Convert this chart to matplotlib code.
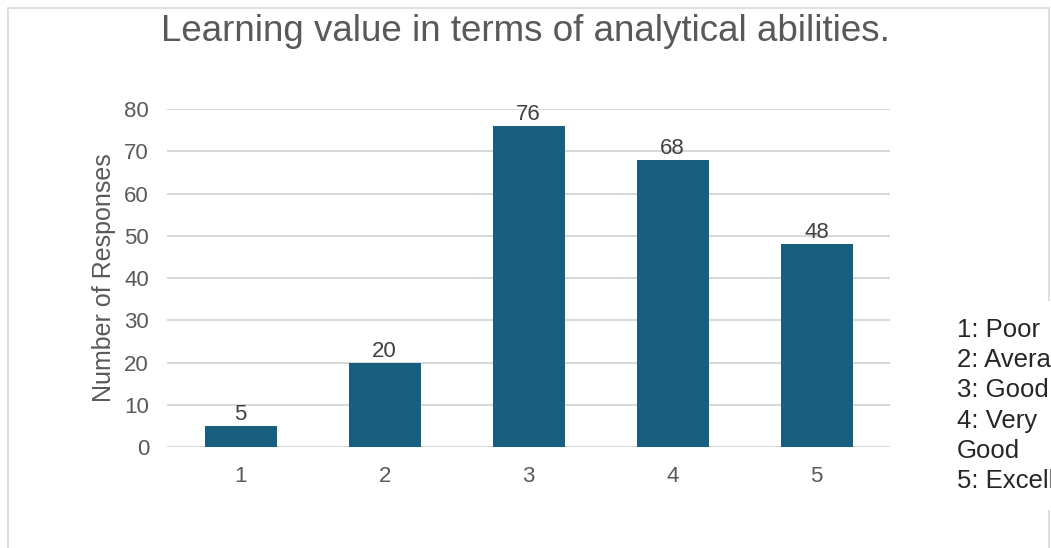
import matplotlib.pyplot as plt
from matplotlib.patches import Rectangle

categories = ['1', '2', '3', '4', '5']
responses = [5, 20, 76, 68, 48]
legend_lines = ['1: Poor', '2: Average', '3: Good', '4: Very', 'Good', '5: Excellent']
yticks = [0, 10, 20, 30, 40, 50, 60, 70, 80]

plt.rcParams['font.family'] = ['Liberation Sans', 'DejaVu Sans']

fig = plt.figure(figsize=(10.51, 5.48), dpi=100)
fig.patches.append(Rectangle((0.008, -0.01), 0.99, 0.995, transform=fig.transFigure,
                             fill=False, edgecolor='#d9d9d9', linewidth=1.2))

ax = fig.add_axes([0.159, 0.1843, 0.688, 0.6167])
xpos = range(1, len(categories) + 1)
bars = ax.bar(xpos, responses, width=0.5, color='#175e7f', zorder=3)
for x, v in zip(xpos, responses):
    ax.text(x, v + 0.2, str(v), ha='center', va='bottom', fontsize=16, color='#404040')

ax.set_xlim(0.49, 5.51)
ax.set_ylim(0, 80)
ax.set_yticks(yticks)
ax.set_xticks(list(xpos))
ax.set_xticklabels(categories)
ax.tick_params(axis='both', length=0, labelsize=16, labelcolor='#595959')
ax.tick_params(axis='y', pad=13)
ax.tick_params(axis='x', pad=14)
ax.grid(axis='y', color='#d9d9d9', linewidth=1.5, zorder=0)
for s in ax.spines.values():
    s.set_visible(False)
ax.set_ylabel('Number of Responses', fontsize=18, color='#595959', labelpad=6)

fig.text(0.5, 0.942, 'Learning value in terms of analytical abilities.', ha='center',
         va='center', fontsize=26.5, color='#595959')
fig.text(0.9105, 0.1, '\n'.join(legend_lines), ha='left', va='bottom', fontsize=18.5,
         color='#262626', linespacing=1.33,
         bbox=dict(facecolor='white', edgecolor='none', pad=12))

fig.savefig('out.png', dpi=100, facecolor='white')
